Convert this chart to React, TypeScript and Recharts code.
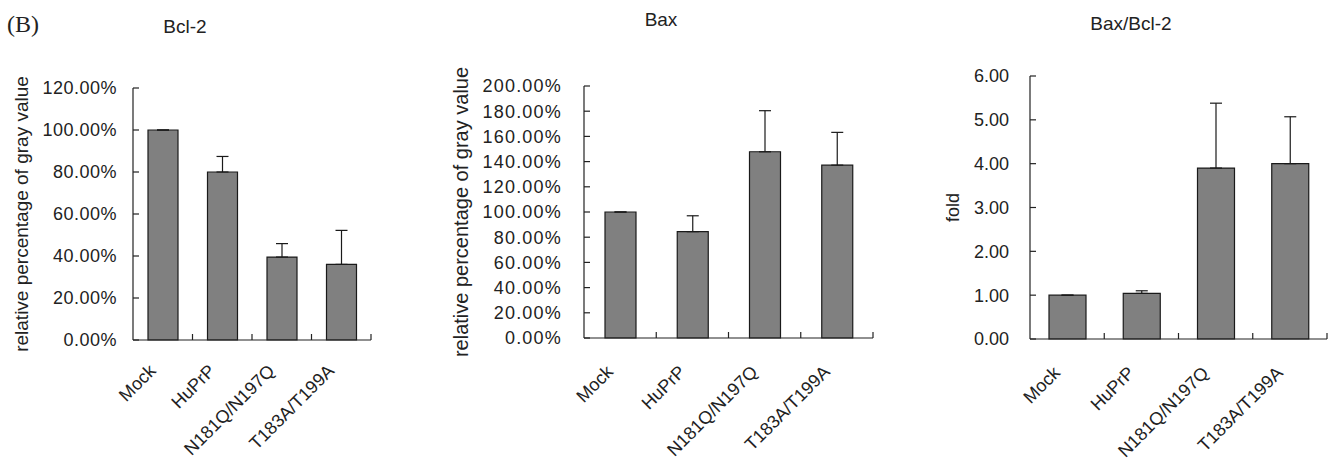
import { BarChart, Bar, XAxis, YAxis, ErrorBar } from 'recharts';

const categories = ['Mock', 'HuPrP', 'N181Q/N197Q', 'T183A/T199A'];

// Bcl-2, % of mock
const bcl2Values = [100, 80, 39.5, 36];
const bcl2Errors = [0, 7.4, 6.4, 16.2];

// Bax, % of mock
const baxValues = [100, 84.4, 147.8, 137.2];
const baxErrors = [0, 12.6, 32.6, 26];

// Bax/Bcl-2 ratio, fold
const ratioValues = [1.0, 1.04, 3.9, 4.0];
const ratioErrors = [0, 0.06, 1.48, 1.07];

const bcl2Ticks = [0, 20, 40, 60, 80, 100, 120];
const baxTicks = [0, 20, 40, 60, 80, 100, 120, 140, 160, 180, 200];
const ratioTicks = [0, 1, 2, 3, 4, 5, 6];

const INK = '#222';
const FONT = '"Liberation Sans", Arial, sans-serif';

const makeRows = (values: number[], errors: number[]) =>
  categories.map((name, i) => ({ name, value: values[i], err: [0, errors[i]] }));

// rotated category label + small inward tick on the right edge of each band
function renderCatTick(tp: any, drop: number, shift: number) {
  const cx = Number(tp.x);
  const ay = Number(tp.y);
  const edge = cx + Number(tp.payload.offset || 0);
  const x = cx + shift;
  const y = ay + drop;
  return (
    <g>
      <line x1={edge} y1={ay} x2={edge} y2={ay - 6} stroke={INK} strokeWidth={1.2} />
      <text
        x={x}
        y={y}
        transform={`rotate(-45, ${x}, ${y})`}
        textAnchor="end"
        fontFamily={FONT}
        fontSize={18}
        fill={INK}
      >
        {tp.payload.value}
      </text>
    </g>
  );
}

function renderValTick(tp: any, fmt: (v: number) => string, spacing: number) {
  return (
    <text
      x={tp.x}
      y={tp.y}
      dy="0.36em"
      textAnchor="end"
      fontFamily={FONT}
      fontSize={18}
      letterSpacing={spacing}
      fill={INK}
    >
      {fmt(tp.payload.value)}
    </text>
  );
}

function AxisTitle(props: any) {
  const { viewBox, value, x0, size } = props;
  const cy = viewBox ? Number(viewBox.y) + Number(viewBox.height) / 2 : 210;
  return (
    <text
      x={x0}
      y={cy}
      transform={`rotate(-90, ${x0}, ${cy})`}
      textAnchor="middle"
      fontFamily={FONT}
      fontSize={size}
      fill={INK}
    >
      {value}
    </text>
  );
}

interface PanelProps {
  left: number;
  width: number;
  margin: { top: number; right: number; bottom: number; left: number };
  yWidth: number;
  values: number[];
  errors: number[];
  ticks: number[];
  fmt: (v: number) => string;
  gap: number;
  spacing: number;
  title: string;
  titleX: number;
  titleSize: number;
  barSize: number;
  drop: number;
}

function Panel(p: PanelProps) {
  const rows = makeRows(p.values, p.errors);
  return (
    <div style={{ position: 'absolute', left: p.left, top: 0 }}>
      <BarChart width={p.width} height={463} data={rows} margin={p.margin} barSize={p.barSize}>
        <XAxis
          dataKey="name"
          height={30}
          tickSize={0}
          tickMargin={0}
          tickLine={false}
          interval={0}
          axisLine={{ stroke: INK, strokeWidth: 1.2 }}
          tick={(tp: any) => renderCatTick(tp, p.drop, -6)}
        />
        <YAxis
          width={p.yWidth}
          domain={[p.ticks[0], p.ticks[p.ticks.length - 1]]}
          ticks={p.ticks}
          interval={0}
          tickSize={-6}
          tickMargin={p.gap + 6}
          tickLine={{ stroke: INK, strokeWidth: 1.2 }}
          axisLine={{ stroke: INK, strokeWidth: 1.2 }}
          tick={(tp: any) => renderValTick(tp, p.fmt, p.spacing)}
          label={<AxisTitle value={p.title} x0={p.titleX} size={p.titleSize} />}
        />
        <Bar dataKey="value" fill="#808080" stroke="#1a1a1a" strokeWidth={1.2} isAnimationActive={false}>
          <ErrorBar dataKey="err" width={6} stroke="#1a1a1a" strokeWidth={1.2} direction="y" />
        </Bar>
      </BarChart>
    </div>
  );
}

const pct = (v: number) => `${v.toFixed(2)}%`;
const fold = (v: number) => v.toFixed(2);

export default function App() {
  return (
    <div
      style={{
        position: 'absolute',
        left: 0,
        top: 0,
        width: 1332,
        height: 463,
        background: '#fff',
        overflow: 'hidden',
      }}
    >
      <svg width={1332} height={463} style={{ position: 'absolute', left: 0, top: 0 }}>
        <text x={7} y={32} fontFamily='"Liberation Serif", serif' fontSize={24} fill={INK}>
          (B)
        </text>
        <text x={185} y={33} textAnchor="middle" fontFamily={FONT} fontSize={19} fill={INK}>
          Bcl-2
        </text>
        <text x={661} y={26} textAnchor="middle" fontFamily={FONT} fontSize={19} fill={INK}>
          Bax
        </text>
        <text x={1131} y={30} textAnchor="middle" fontFamily={FONT} fontSize={19} fill={INK}>
          Bax/Bcl-2
        </text>
      </svg>
      <Panel
        left={0}
        width={400}
        margin={{ top: 88, right: 29, bottom: 93, left: 33 }}
        yWidth={100}
        values={bcl2Values}
        errors={bcl2Errors}
        ticks={bcl2Ticks}
        fmt={pct}
        gap={16}
        spacing={0.5}
        title="relative percentage of gray value"
        titleX={28}
        titleSize={19}
        barSize={30}
        drop={32}
      />
      <Panel
        left={440}
        width={460}
        margin={{ top: 86, right: 27, bottom: 95, left: 44 }}
        yWidth={100}
        values={baxValues}
        errors={baxErrors}
        ticks={baxTicks}
        fmt={pct}
        gap={22}
        spacing={1.2}
        title="relative percentage of gray value"
        titleX={28}
        titleSize={20}
        barSize={31}
        drop={35}
      />
      <Panel
        left={930}
        width={402}
        margin={{ top: 76, right: 5, bottom: 94, left: 20 }}
        yWidth={80}
        values={ratioValues}
        errors={ratioErrors}
        ticks={ratioTicks}
        fmt={fold}
        gap={21}
        spacing={0}
        title="fold"
        titleX={29}
        titleSize={18}
        barSize={37}
        drop={35}
      />
    </div>
  );
}
